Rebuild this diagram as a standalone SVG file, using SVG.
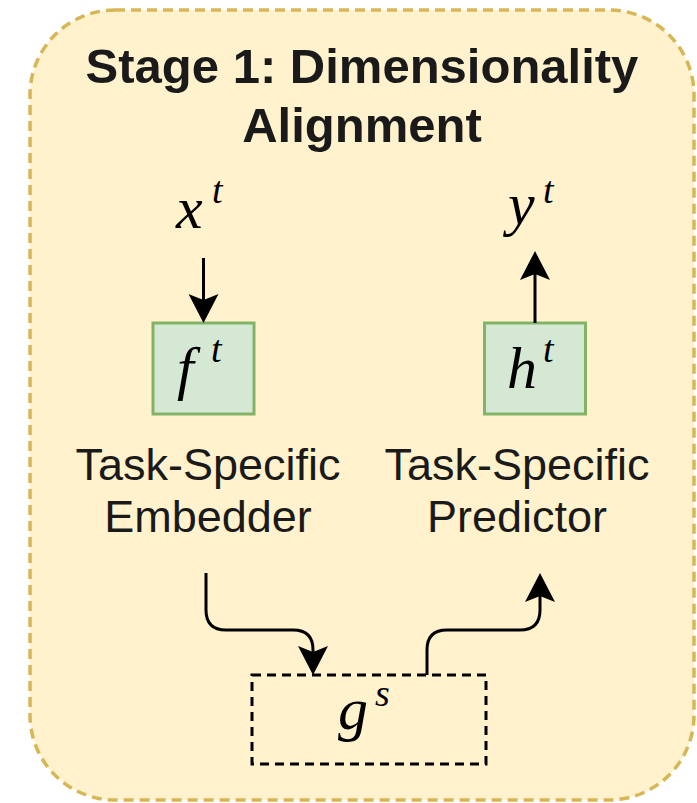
<svg xmlns="http://www.w3.org/2000/svg" width="697" height="803" viewBox="0 0 697 803">
  <defs>
    <marker id="arr" markerUnits="userSpaceOnUse" markerWidth="32" markerHeight="30" refX="6" refY="15" orient="auto">
      <path d="M0,0 L29,15 L0,30 L6,15 Z" fill="#000"/>
    </marker>
    <style>
      .title { font-family: "Liberation Sans", Arial, sans-serif; font-weight: bold; font-size: 49px; fill: #1a1a1a; text-anchor: middle; }
      .lbl { font-family: "Liberation Sans", Arial, sans-serif; font-size: 45px; fill: #1a1a1a; text-anchor: middle; }
      .m { font-family: "Liberation Serif", "Times New Roman", serif; font-style: italic; font-size: 60px; fill: #000; }
      .s { font-family: "Liberation Serif", "Times New Roman", serif; font-style: italic; font-size: 38px; fill: #000; }
      .green { fill: #d5e8d4; stroke: #82b366; stroke-width: 3; }
      .conn { fill: none; stroke: #000; stroke-width: 3; marker-end: url(#arr); }
    </style>
  </defs>
  <rect width="697" height="803" fill="#ffffff"/>
  <g id="stage1">
    <rect x="30" y="10" width="664" height="790" rx="85" ry="85" fill="#fff2cc" stroke="#d6b656" stroke-width="3.5" stroke-dasharray="10 6"/>
    <text class="title" x="362" y="83">Stage 1: Dimensionality</text>
    <text class="title" x="362" y="142">Alignment</text>
  </g>
  <g id="x-input">
    <text class="m" x="176" y="228">x</text>
    <text class="s" x="212" y="203">t</text>
  </g>
  <g id="y-output">
    <text class="m" x="508" y="224">y</text>
    <text class="s" x="543" y="203">t</text>
  </g>
  <g id="embedder">
    <rect class="green" x="153" y="323" width="101" height="91"/>
    <text class="m" x="177" y="388">f</text>
    <text class="s" x="211" y="362">t</text>
    <text class="lbl" x="208" y="480">Task-Specific</text>
    <text class="lbl" x="208" y="532">Embedder</text>
  </g>
  <g id="predictor">
    <rect class="green" x="484.5" y="323" width="101" height="91"/>
    <text class="m" x="507" y="388">h</text>
    <text class="s" x="543" y="362">t</text>
    <text class="lbl" x="517" y="480">Task-Specific</text>
    <text class="lbl" x="517" y="532">Predictor</text>
  </g>
  <g id="shared">
    <rect x="252" y="675" width="234" height="89" fill="none" stroke="#000" stroke-width="3" stroke-dasharray="9 6"/>
    <text class="m" x="338" y="729">g</text>
    <text class="s" x="375" y="706">s</text>
  </g>
  <g id="connectors">
    <path class="conn" d="M203.5,258 L203.5,300"/>
    <path class="conn" d="M535,323 L535,274"/>
    <path class="conn" d="M206,573 L206,610 Q206,630 226,630 L293,630 Q313,630 313,650 L313,652"/>
    <path class="conn" d="M427,675 L427,650 Q427,630 447,630 L520,630 Q540,630 540,610 L540,596"/>
  </g>
</svg>
